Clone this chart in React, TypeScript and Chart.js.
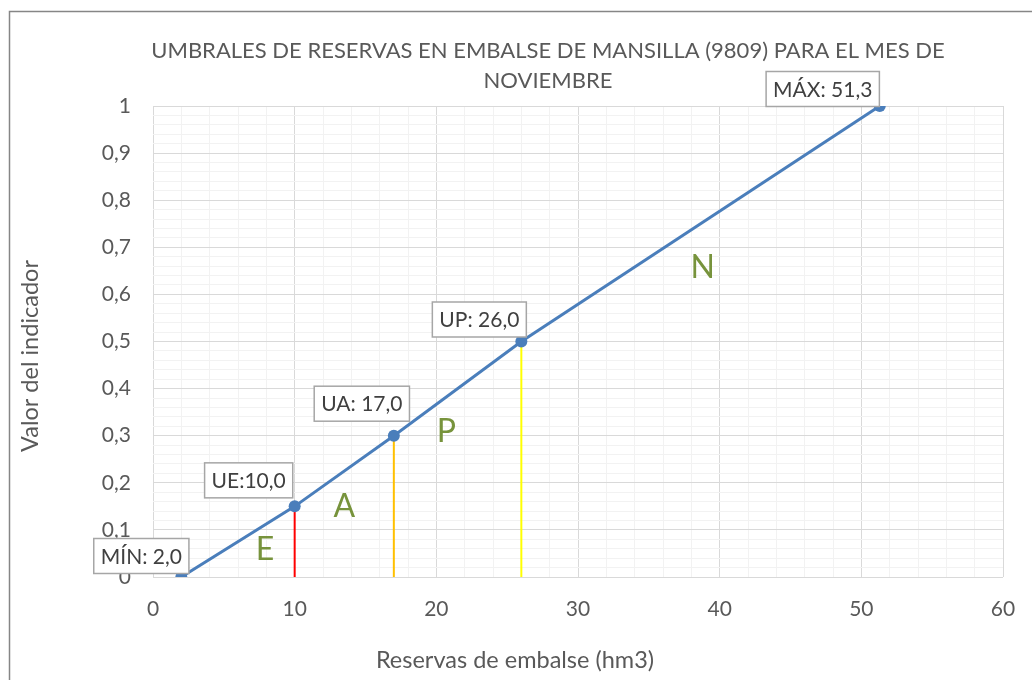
import React, { useEffect, useRef } from "react";
import { Chart, registerables } from "chart.js";

Chart.register(...registerables);

// ---- data ----
const TITLE_LINES = [
  "UMBRALES DE RESERVAS EN EMBALSE DE MANSILLA (9809) PARA EL MES DE",
  "NOVIEMBRE",
];
const X_TITLE = "Reservas de embalse (hm3)";
const Y_TITLE = "Valor del indicador";

const THRESHOLD_LABELS = ["MÍN: 2,0", "UE:10,0", "UA: 17,0", "UP: 26,0", "MÁX: 51,3"];
const RESERVES = [2, 10, 17, 26, 51.3];
const INDICATOR = [0, 0.15, 0.3, 0.5, 1];

// drop lines at UE, UA, UP (indices into RESERVES / INDICATOR)
const DROP_INDEX = [1, 2, 3];
const DROP_COLORS = ["#FF0000", "#FFC000", "#FFFF00"];

const ZONE_NAMES = ["E", "A", "P", "N"];
const ZONE_X = [7.9, 13.5, 20.7, 38.8];
const ZONE_Y = [0.057, 0.149, 0.308, 0.656];

const X_MIN = 0;
const X_MAX = 60;
const X_STEP = 2;
const X_MAJOR = 10;
const Y_MIN = 0;
const Y_MAX = 1;
const Y_STEP = 0.02;

// ---- style ----
const FONT = "Lato, 'Open Sans', sans-serif";
const TEXT = "#595959";
const LINE_BLUE = "#4A7EBB";
const ZONE_GREEN = "#77933C";
// label box centre offsets from the point, in pixels
const LABEL_OFFSETS: [number, number][] = [
  [-40, -21],
  [-46, -26],
  [-32, -32],
  [-42, -22],
  [-57, -17],
];

const overlay = {
  id: "overlay",
  beforeDraw(chart: any) {
    const ctx = chart.ctx;
    ctx.save();
    ctx.fillStyle = "#ffffff";
    ctx.fillRect(0, 0, chart.width, chart.height);
    ctx.restore();
  },
  afterDatasetsDraw(chart: any) {
    const ctx = chart.ctx;
    const xs = chart.scales.x;
    const ys = chart.scales.y;
    ctx.save();
    // zone letters
    ctx.fillStyle = ZONE_GREEN;
    ctx.font = `32px ${FONT}`;
    ctx.textAlign = "center";
    ctx.textBaseline = "middle";
    ZONE_NAMES.forEach((n, i) => {
      ctx.fillText(n, xs.getPixelForValue(ZONE_X[i]), ys.getPixelForValue(ZONE_Y[i]));
    });
    // data labels
    ctx.font = `21px ${FONT}`;
    THRESHOLD_LABELS.forEach((lab, i) => {
      const px = xs.getPixelForValue(RESERVES[i]);
      const py = ys.getPixelForValue(INDICATOR[i]);
      const cx = px + LABEL_OFFSETS[i][0];
      const cy = py + LABEL_OFFSETS[i][1];
      const w = ctx.measureText(lab).width + 14;
      const h = 35;
      ctx.fillStyle = "#ffffff";
      ctx.fillRect(cx - w / 2, cy - h / 2, w, h);
      ctx.strokeStyle = "#A6A6A6";
      ctx.lineWidth = 1.5;
      ctx.strokeRect(cx - w / 2, cy - h / 2, w, h);
      ctx.fillStyle = "#404040";
      ctx.fillText(lab, cx, cy + 1);
    });
    ctx.restore();
  },
  afterDraw(chart: any) {
    const ctx = chart.ctx;
    ctx.save();
    // outer chart border
    ctx.strokeStyle = "#868686";
    ctx.lineWidth = 1.5;
    ctx.beginPath();
    ctx.moveTo(9.5, 700);
    ctx.lineTo(9.5, 11.5);
    ctx.lineTo(1100, 11.5);
    ctx.stroke();
    // title
    ctx.fillStyle = TEXT;
    ctx.textAlign = "center";
    ctx.textBaseline = "middle";
    ctx.font = `22px ${FONT}`;
    ctx.fillText(TITLE_LINES[0], 548, 51);
    ctx.fillText(TITLE_LINES[1], 548, 81);
    // axis titles
    ctx.font = `23.5px ${FONT}`;
    ctx.fillText(X_TITLE, 515, 660);
    ctx.translate(30, 356);
    ctx.rotate(-Math.PI / 2);
    ctx.fillText(Y_TITLE, 0, 0);
    ctx.restore();
  },
};

export default function App() {
  const ref = useRef<HTMLCanvasElement>(null);

  useEffect(() => {
    if (!ref.current) return;
    const mainData = RESERVES.map((x, i) => ({ x, y: INDICATOR[i] }));
    const drops = DROP_INDEX.map((idx, k) => ({
      type: "scatter" as const,
      data: [
        { x: RESERVES[idx], y: Y_MIN },
        { x: RESERVES[idx], y: INDICATOR[idx] },
      ],
      showLine: true,
      borderColor: DROP_COLORS[k],
      borderWidth: 2,
      pointRadius: 0,
    }));
    const isMajorX = (v: number) => Math.round(v) % X_MAJOR === 0;
    const isMajorY = (v: number) => Math.round(v * 100) % 10 === 0;
    const chart = new Chart(ref.current, {
      type: "scatter",
      data: {
        datasets: [
          {
            data: mainData,
            showLine: true,
            borderColor: LINE_BLUE,
            backgroundColor: LINE_BLUE,
            borderWidth: 3,
            pointRadius: 6,
            pointBorderWidth: 0,
          },
          ...drops,
        ],
      },
      options: {
        responsive: false,
        animation: false,
        layout: { padding: { top: 106, right: 29, left: 0, bottom: 0 } },
        plugins: {
          legend: { display: false },
          tooltip: { enabled: false },
          title: { display: false },
        },
        scales: {
          x: {
            type: "linear",
            min: X_MIN,
            max: X_MAX,
            border: { display: false },
            grid: {
              drawTicks: false,
              color: (c: any) => (isMajorX(c.tick.value) ? "#D9D9D9" : "#F2F2F2"),
              lineWidth: 1,
            },
            ticks: {
              stepSize: X_STEP,
              autoSkip: false,
              maxRotation: 0,
              padding: 20,
              color: TEXT,
              font: { family: FONT, size: 21 },
              callback: (v: any) => (isMajorX(Number(v)) ? String(Math.round(Number(v))) : ""),
            },
            afterFit: (s: any) => {
              s.height = 103;
              s.paddingLeft = 0;
              s.paddingRight = 0;
            },
          },
          y: {
            type: "linear",
            min: Y_MIN,
            max: Y_MAX,
            border: { display: false },
            grid: {
              drawTicks: false,
              color: (c: any) => (isMajorY(c.tick.value) ? "#D9D9D9" : "#F2F2F2"),
              lineWidth: 1,
            },
            ticks: {
              stepSize: Y_STEP,
              autoSkip: false,
              padding: 22,
              color: TEXT,
              font: { family: FONT, size: 21 },
              callback: (v: any) => {
                const n = Number(v);
                if (!isMajorY(n)) return "";
                return String(Math.round(n * 10) / 10).replace(".", ",");
              },
            },
            afterFit: (s: any) => {
              s.width = 153;
              s.paddingTop = 0;
              s.paddingBottom = 0;
            },
          },
        },
      },
      plugins: [overlay],
    } as any);
    return () => chart.destroy();
  }, []);

  return (
    <div style={{ position: "absolute", left: 0, top: 0, width: 1032, height: 680 }}>
      <canvas ref={ref} width={1032} height={680} style={{ display: "block" }} />
    </div>
  );
}
